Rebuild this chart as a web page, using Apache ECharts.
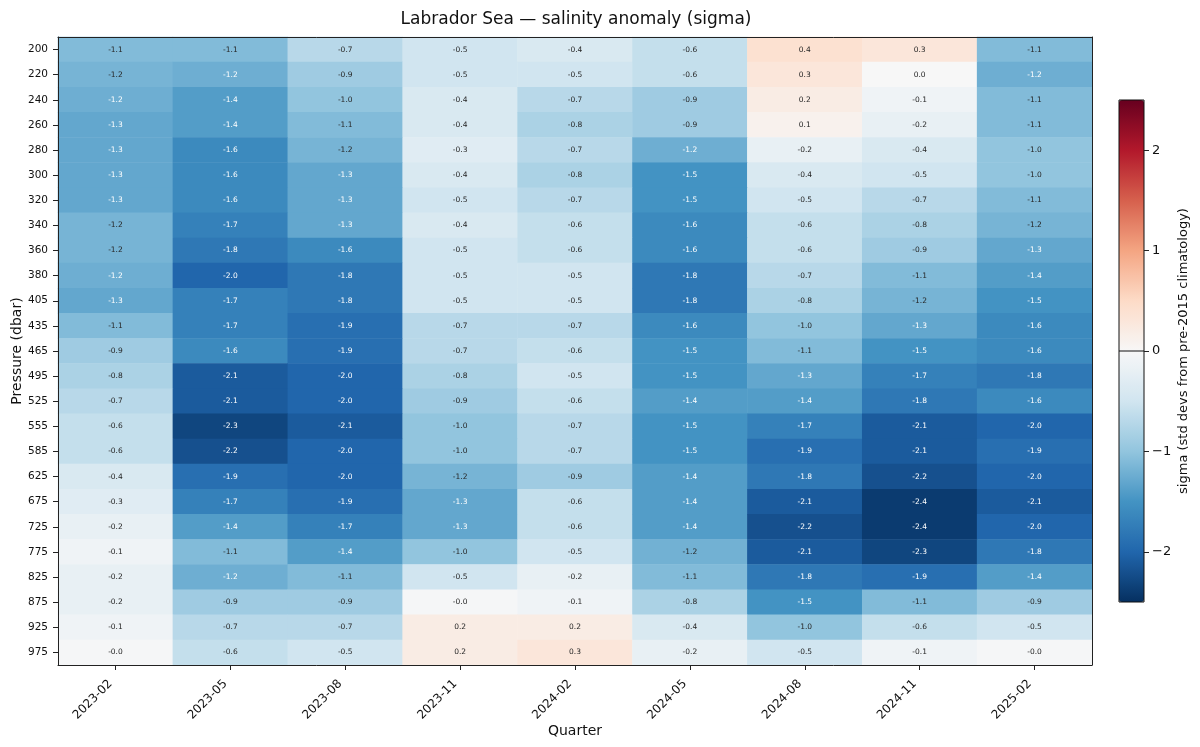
<!DOCTYPE html>
<html>
<head>
<meta charset="utf-8">
<script src="https://cdn.jsdelivr.net/npm/echarts@6/dist/echarts.min.js"></script>
<style>html,body{margin:0;padding:0;background:#fff;}#c{width:1200px;height:747px;}</style>
</head>
<body>
<div id="c"></div>
<script>
const quarters = ['2023-02','2023-05','2023-08','2023-11','2024-02','2024-05','2024-08','2024-11','2025-02'];
const pressures = ['200','220','240','260','280','300','320','340','360','380','405','435','465','495','525','555','585','625','675','725','775','825','875','925','975'];
// one row per pressure level, one value per quarter
const sigma = [
  [-1.1, -1.1, -0.7, -0.5, -0.4, -0.6,  0.4,  0.3, -1.1],
  [-1.17,-1.23,-0.9, -0.5, -0.5, -0.6,  0.3,  0.0, -1.23],
  [-1.23,-1.4, -1.0, -0.4, -0.7, -0.9,  0.2, -0.1, -1.1],
  [-1.3, -1.4, -1.1, -0.4, -0.8, -0.9,  0.1, -0.2, -1.1],
  [-1.3, -1.6, -1.17,-0.3, -0.7, -1.23,-0.2, -0.4, -1.0],
  [-1.3, -1.6, -1.3, -0.4, -0.8, -1.5, -0.4, -0.5, -1.0],
  [-1.3, -1.6, -1.3, -0.5, -0.7, -1.5, -0.5, -0.7, -1.1],
  [-1.17,-1.7, -1.3, -0.4, -0.6, -1.6, -0.6, -0.8, -1.17],
  [-1.17,-1.8, -1.6, -0.5, -0.6, -1.6, -0.6, -0.9, -1.3],
  [-1.23,-2.0, -1.8, -0.5, -0.5, -1.8, -0.7, -1.1, -1.4],
  [-1.3, -1.7, -1.8, -0.5, -0.5, -1.8, -0.8, -1.17,-1.5],
  [-1.1, -1.7, -1.9, -0.7, -0.7, -1.6, -1.0, -1.3, -1.6],
  [-0.9, -1.6, -1.9, -0.7, -0.6, -1.5, -1.1, -1.5, -1.6],
  [-0.8, -2.1, -2.0, -0.8, -0.5, -1.5, -1.3, -1.7, -1.8],
  [-0.7, -2.1, -2.0, -0.9, -0.6, -1.4, -1.4, -1.8, -1.6],
  [-0.6, -2.3, -2.1, -1.0, -0.7, -1.5, -1.7, -2.1, -2.0],
  [-0.6, -2.2, -2.0, -1.0, -0.7, -1.5, -1.9, -2.1, -1.9],
  [-0.4, -1.9, -2.0, -1.17,-0.9, -1.4, -1.8, -2.2, -2.0],
  [-0.3, -1.7, -1.9, -1.3, -0.6, -1.4, -2.1, -2.4, -2.1],
  [-0.2, -1.4, -1.7, -1.3, -0.6, -1.4, -2.2, -2.4, -2.0],
  [-0.1, -1.1, -1.4, -1.0, -0.5, -1.2, -2.1, -2.3, -1.8],
  [-0.2, -1.23,-1.1, -0.5, -0.2, -1.1, -1.8, -1.9, -1.4],
  [-0.2, -0.9, -0.9, -0.02,-0.1, -0.8, -1.5, -1.1, -0.9],
  [-0.1, -0.7, -0.7,  0.2,  0.2, -0.4, -1.0, -0.6, -0.5],
  [-0.02,-0.6, -0.5,  0.2,  0.3, -0.2, -0.5, -0.1, -0.02]
];
const colorbarTicks = [-2, -1, 0, 1, 2];
const colorbarZero = [[0, 0], [1, 0]];
const rdbuR = ['#053061','#2166ac','#4393c3','#92c5de','#d1e5f0','#f7f7f7','#fddbc7','#f4a582','#d6604d','#b2182b','#67001f'];

const FONT = 'DejaVu Sans';
const heatData = [];
sigma.forEach((row, yi) => row.forEach((v, xi) => {
  heatData.push({ value: [xi, yi, v], label: { color: Math.abs(v) > 1.2 ? '#ffffff' : '#262626' } });
}));

const chart = echarts.init(document.getElementById('c'));
chart.setOption({
  backgroundColor: '#ffffff',
  animation: false,
  textStyle: { fontFamily: FONT },
  title: {
    text: 'Labrador Sea \u2014 salinity anomaly (sigma)',
    left: 571, top: 6, textAlign: 'center',
    textStyle: { fontFamily: FONT, fontSize: 17, fontWeight: 'normal', color: '#111' }
  },
  grid: [
    { left: 58, right: 108, top: 37, bottom: 82, outerBoundsMode: 'none', containLabel: false },
    { left: 1119, width: 25, top: 100, height: 502, z: 10, show: true, borderColor: '#111', borderWidth: 1, backgroundColor: 'transparent', outerBoundsMode: 'none', containLabel: false }
  ],
  xAxis: [
    {
      type: 'category', data: quarters, gridIndex: 0, z: 10,
      name: 'Quarter', nameLocation: 'middle', nameGap: 59, nameMoveOverlap: false,
      nameTextStyle: { fontFamily: FONT, fontSize: 14, color: '#111' },
      axisLine: { show: true, lineStyle: { color: '#222', width: 1 } },
      axisTick: { show: true, inside: false, alignWithLabel: true, length: 5, lineStyle: { color: '#222' } },
      axisLabel: { rotate: 45, fontFamily: FONT, fontSize: 12, color: '#111', margin: 12, padding: [0, 7, 0, 0], interval: 0 },
      splitLine: { show: false }
    },
    {
      type: 'category', data: quarters, gridIndex: 0, position: 'top', z: 10,
      axisLine: { show: true, lineStyle: { color: '#222', width: 1 } },
      axisTick: { show: false }, axisLabel: { show: false }, splitLine: { show: false }
    },
    { type: 'value', gridIndex: 1, min: 0, max: 1, show: false, axisLine: { onZero: false } }
  ],
  yAxis: [
    {
      type: 'category', data: pressures, gridIndex: 0, inverse: true, z: 10,
      name: 'Pressure (dbar)', nameLocation: 'middle', nameGap: 34, nameRotate: 90, nameMoveOverlap: false,
      nameTextStyle: { fontFamily: FONT, fontSize: 14, color: '#111' },
      axisLine: { show: true, lineStyle: { color: '#222', width: 1 } },
      axisTick: { show: true, inside: false, alignWithLabel: true, length: 5, lineStyle: { color: '#222' } },
      axisLabel: { fontFamily: FONT, fontSize: 10.5, color: '#111', margin: 10, interval: 0 },
      splitLine: { show: false }
    },
    {
      type: 'category', data: pressures, gridIndex: 0, inverse: true, position: 'right', z: 10,
      axisLine: { show: true, lineStyle: { color: '#222', width: 1 } },
      axisTick: { show: false }, axisLabel: { show: false }, splitLine: { show: false }
    },
    {
      type: 'value', gridIndex: 1, min: -2.5, max: 2.5, position: 'right', z: 10,
      name: 'sigma (std devs from pre-2015 climatology)', nameLocation: 'middle', nameGap: 33, nameRotate: 90, nameMoveOverlap: false,
      nameTextStyle: { fontFamily: FONT, fontSize: 13, color: '#111' },
      axisLine: { show: false, onZero: false },
      axisTick: { show: true, inside: false, length: 5, customValues: colorbarTicks, lineStyle: { color: '#222' } },
      axisLabel: { customValues: colorbarTicks, fontFamily: FONT, fontSize: 13, color: '#111', margin: 8,
        formatter: v => (v < 0 ? '\u2212' + Math.abs(v) : String(v)) },
      splitLine: { show: false }
    }
  ],
  visualMap: {
    type: 'continuous', seriesIndex: 0, dimension: 2, min: -2.5, max: 2.5,
    inRange: { color: rdbuR },
    orient: 'vertical', left: 1119, top: 100, itemWidth: 25, itemHeight: 502,
    padding: 0, calculable: false, realtime: false, text: null, showLabel: false,
    hoverLink: false, z: 1
  },
  series: [
    {
      type: 'heatmap', xAxisIndex: 0, yAxisIndex: 0, data: heatData,
      label: { show: true, fontFamily: FONT, fontSize: 7.5, formatter: p => p.value[2].toFixed(1) },
      itemStyle: { borderWidth: 0 },
      emphasis: { disabled: true }
    },
    {
      type: 'line', xAxisIndex: 2, yAxisIndex: 2, data: colorbarZero, symbol: 'none', silent: true, z: 20,
      lineStyle: { color: '#111', width: 1 }
    }
  ]
});
</script>
</body>
</html>
